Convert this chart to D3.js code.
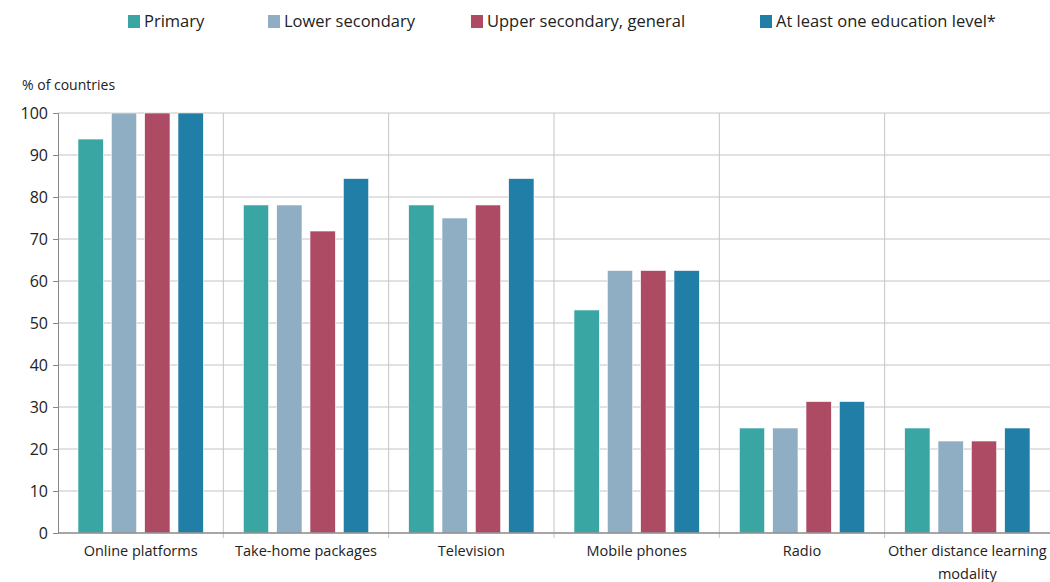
<!DOCTYPE html>
<html>
<head>
<meta charset="utf-8">
<script src="https://cdn.jsdelivr.net/npm/d3@7"></script>
<style>
  body { margin: 0; background: #fff; }
  text { font-family: "Open Sans", "DejaVu Sans", sans-serif; fill: #222; }
</style>
</head>
<body>
<div id="main"></div>
<script>
var categories = ["Online platforms", "Take-home packages", "Television", "Mobile phones", "Radio", "Other distance learning modality"];
var seriesNames = ["Primary", "Lower secondary", "Upper secondary, general", "At least one education level*"];
var primary = [93.8, 78.1, 78.1, 53.1, 25, 25];
var lowerSecondary = [100, 78.1, 75, 62.5, 25, 21.9];
var upperSecondary = [100, 71.9, 78.1, 62.5, 31.3, 21.9];
var atLeastOne = [100, 84.4, 84.4, 62.5, 31.3, 25];
var yTicks = [0, 10, 20, 30, 40, 50, 60, 70, 80, 90, 100];
var colors = ["#3aa6a3", "#8fadc3", "#ad4a64", "#217ea6"];

var allSeries = [primary, lowerSecondary, upperSecondary, atLeastOne];

var width = 1050, height = 582;
var margin = {top: 113, right: 0, bottom: 49, left: 58};

var svg = d3.select("#main").append("svg")
    .attr("width", width)
    .attr("height", height);

var x0 = d3.scaleBand().domain(categories)
    .range([margin.left, width - margin.right])
    .paddingInner(0).paddingOuter(0);

var x1 = d3.scaleBand().domain(seriesNames)
    .range([20, x0.bandwidth() - 20])
    .paddingInner(0.24).paddingOuter(0);

var y = d3.scaleLinear().domain([0, 100]).range([height - margin.bottom, margin.top]);

// horizontal gridlines
svg.append("g").selectAll("line").data(yTicks.filter(d => d > 0))
  .enter().append("line")
    .attr("x1", margin.left).attr("x2", width)
    .attr("y1", d => y(d)).attr("y2", d => y(d))
    .attr("stroke", "#c4c4c4").attr("stroke-width", 1);

// vertical separators
svg.append("g").selectAll("line").data(categories.slice(1))
  .enter().append("line")
    .attr("x1", d => x0(d)).attr("x2", d => x0(d))
    .attr("y1", y(100)).attr("y2", y(0) + 5)
    .attr("stroke", "#c4c4c4").attr("stroke-width", 1);

// bars
var groups = svg.append("g").selectAll("g").data(categories)
  .enter().append("g")
    .attr("transform", d => "translate(" + x0(d) + ",0)");

groups.selectAll("rect")
  .data((c, ci) => seriesNames.map((s, si) => ({s: s, si: si, v: allSeries[si][ci]})))
  .enter().append("rect")
    .attr("x", d => x1(d.s))
    .attr("width", x1.bandwidth())
    .attr("y", d => y(d.v))
    .attr("height", d => y(0) - y(d.v))
    .attr("fill", d => colors[d.si])
    .attr("stroke", "#fff").attr("stroke-width", 0.6);

// y axis
var yAxis = svg.append("g")
    .attr("transform", "translate(" + margin.left + ",0)")
    .call(d3.axisLeft(y).tickValues(yTicks).tickSize(5).tickPadding(5));
yAxis.select(".domain").attr("stroke", "#888");
yAxis.selectAll(".tick line").attr("stroke", "#888");
yAxis.selectAll(".tick text").style("font-size", "16px").attr("fill", "#222")
    .style("font-family", "'Open Sans', 'DejaVu Sans', sans-serif");

// x axis line
svg.append("line")
    .attr("x1", margin.left).attr("x2", width)
    .attr("y1", y(0)).attr("y2", y(0))
    .attr("stroke", "#888").attr("stroke-width", 1.5);

// x labels
var xl = svg.append("g").selectAll("text").data(categories)
  .enter().append("text")
    .attr("x", d => x0(d) + x0.bandwidth() / 2)
    .attr("y", y(0) + 23)
    .attr("text-anchor", "middle")
    .style("font-size", "14.5px");
xl.each(function(d) {
  var t = d3.select(this);
  if (d === "Other distance learning modality") {
    t.append("tspan").attr("x", x0(d) + x0.bandwidth() / 2).text("Other distance learning");
    t.append("tspan").attr("x", x0(d) + x0.bandwidth() / 2).attr("dy", 23).text("modality");
  } else {
    t.text(d);
  }
});

// y title
svg.append("text")
    .attr("x", 22).attr("y", 90)
    .style("font-size", "14px")
    .text("% of countries");

// legend
var legendX = [128, 268, 471, 760];
var legend = svg.append("g").selectAll("g").data(seriesNames)
  .enter().append("g")
    .attr("transform", (d, i) => "translate(" + legendX[i] + ",15)");
legend.append("rect")
    .attr("width", 12).attr("height", 13)
    .attr("fill", (d, i) => colors[i]);
legend.append("text")
    .attr("x", 16).attr("y", 12)
    .style("font-size", "16.5px")
    .text(d => d);
</script>
</body>
</html>
